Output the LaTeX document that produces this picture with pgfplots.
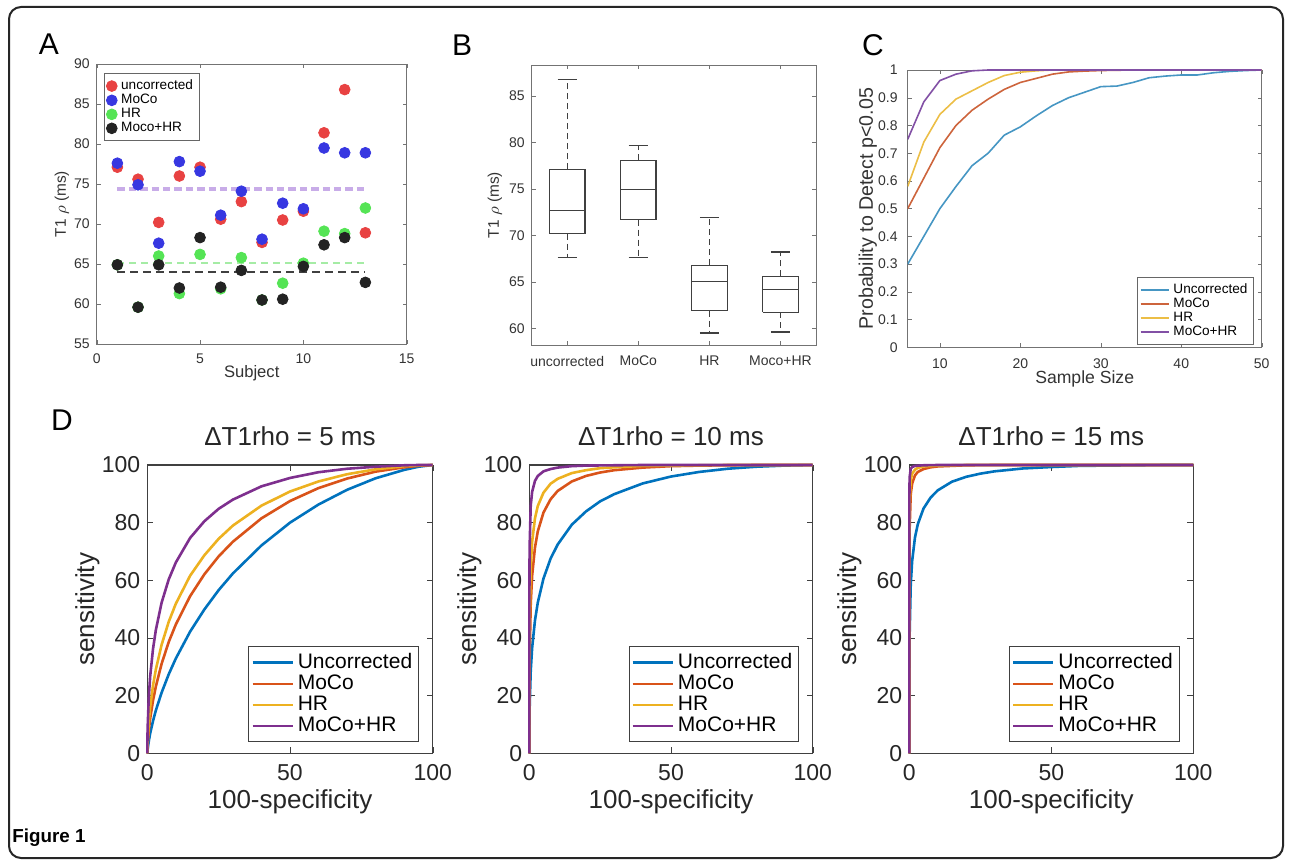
\documentclass[border=0pt]{standalone}
\usepackage{pgfplots}
\pgfplotsset{compat=1.18}
\usepackage{fontspec}
\setmainfont{Liberation Sans}
\newcommand{\fA}{\fontsize{7}{8}\selectfont}
\newcommand{\fAleg}{\fontsize{6.8}{7.4}\selectfont}
\newcommand{\fAy}{\fontsize{7.7}{9}\selectfont}
\newcommand{\fAx}{\fontsize{8.3}{9}\selectfont}
\newcommand{\fCx}{\fontsize{8.8}{10}\selectfont}
\newcommand{\fCy}{\fontsize{9.8}{11}\selectfont}
\newcommand{\fD}{\fontsize{11.5}{13}\selectfont}
\newcommand{\fDleg}{\fontsize{10.5}{12}\selectfont}
\newcommand{\fDl}{\fontsize{13}{15}\selectfont}
\definecolor{pred}{RGB}{232,66,66}
\definecolor{pblue}{RGB}{55,55,225}
\definecolor{pgreen}{RGB}{85,228,85}
\definecolor{pblack}{RGB}{35,35,35}
\definecolor{lpurple}{RGB}{200,172,232}
\definecolor{lgreen}{RGB}{165,236,165}
\definecolor{cU}{RGB}{70,150,195}
\definecolor{cM}{RGB}{205,100,60}
\definecolor{cH}{RGB}{236,190,70}
\definecolor{cB}{RGB}{130,80,165}
\definecolor{mU}{RGB}{0,114,189}
\definecolor{mM}{RGB}{217,83,25}
\definecolor{mH}{RGB}{237,177,32}
\definecolor{mB}{RGB}{126,47,142}
\pgfplotsset{
  mat/.style={scale only axis, anchor=south west, tick align=inside,
    xtick pos=both, ytick pos=both, major tick length=2pt,
    /pgf/number format/assume math mode=true,
    axis line style={black!55}, tick style={black!55},
    tick label style={font=\fA, text=black!80}},
  matD/.style={scale only axis, anchor=south west, tick align=inside,
    xtick pos=both, ytick pos=both, major tick length=3pt,
    /pgf/number format/assume math mode=true,
    axis line style={black!75, line width=0.6pt}, tick style={black!75},
    tick label style={font=\fD, text=black!85},
    xmin=0, xmax=100, ymin=0, ymax=100,
    xtick={0,50,100}, ytick={0,20,...,100},
    xticklabel style={yshift=-2pt},
    clip=false,
    every axis x label/.style={at={(axis description cs:0.5,0)}, yshift=-24pt, anchor=center, font=\fDl, text=black!85},
    every axis y label/.style={at={(axis description cs:0,0.5)}, xshift=-29.9pt, rotate=90, anchor=center, font=\fDl, text=black!85},
    every axis title/.style={at={(axis description cs:0.5,1)}, yshift=14.2pt, anchor=center, font=\fDl, text=black!85},
    legend style={at={(0.952,0.04)}, anchor=south east, font=\fDleg, draw=black!75,
      inner sep=1.2pt, row sep=-2.2pt, cells={anchor=west}},
    legend image code/.code={\draw[##1] (0pt,0pt) -- (20pt,0pt);},
    ylabel={sensitivity}, xlabel={100-specificity}},
  boxst/.style={black!75, line width=0.6pt, unbounded coords=jump, forget plot},
  whst/.style={black!75, line width=0.6pt, dash pattern=on 3pt off 2pt, unbounded coords=jump, forget plot},
}
\begin{document}
\begin{tikzpicture}[x=0.5pt,y=0.5pt]
\useasboundingbox (0,0) rectangle (1290,863);
\draw[line width=1pt, rounded corners=6pt, black!85] (9,5) rectangle (1283,856);
\node[font=\fontsize{15}{16}\selectfont] at (49,819) {A};
\node[font=\fontsize{15}{16}\selectfont] at (462,818) {B};
\node[font=\fontsize{15}{16}\selectfont] at (873,818) {C};
\node[font=\fontsize{15}{16}\selectfont] at (62,443) {D};
\node[font=\bfseries\fontsize{9.4}{10}\selectfont, anchor=west, inner sep=0pt] at (12,25) {Figure 1};

% ---------------- Panel A ----------------
\begin{axis}[mat, at={(48.35pt,259.5pt)}, width=155pt, height=140pt,
  xmin=0, xmax=15, ymin=55, ymax=90,
  xtick={0,5,10,15}, ytick={55,60,...,90},
  xticklabel style={yshift=-1.5pt},
  every axis x label/.style={at={(axis description cs:0.5,0)}, yshift=-14.5pt, anchor=center, font=\fAx, text=black!80},
  every axis y label/.style={at={(axis description cs:0,0.5)}, xshift=-17.4pt, rotate=90, anchor=center, font=\fAy, text=black!80},
  xlabel={Subject}, ylabel={T1 $\rho$ (ms)},
  legend style={at={(0.0235,0.967)}, anchor=north west, font=\fAleg, draw=black!60,
    inner sep=1pt, row sep=-3.2pt, cells={anchor=west}},
  legend image code/.code={\draw[#1] plot coordinates {(0.2cm,0cm)};},
]
\addplot[forget plot, lpurple, line width=2pt, dash pattern=on 3.7pt off 2pt] coordinates {(1,74.4) (13,74.4)};
\addplot[forget plot, lgreen, line width=0.9pt, dash pattern=on 3.5pt off 2.5pt] coordinates {(1,65.1) (13,65.1)};
\addplot[forget plot, black!75, line width=0.8pt, dash pattern=on 4pt off 2.5pt] coordinates {(1,64.0) (13,64.0)};
\addplot[only marks, mark=*, mark size=2.7pt, color=pred] coordinates {
(1,77.1) (2,75.6) (3,70.2) (4,76.0) (5,77.1) (6,70.6) (7,72.8) (8,67.7) (9,70.5) (10,71.6) (11,81.4) (12,86.8) (13,68.9)};
\addlegendentry{uncorrected}
\addplot[only marks, mark=*, mark size=2.7pt, color=pblue] coordinates {
(1,77.6) (2,74.9) (3,67.6) (4,77.8) (5,76.6) (6,71.1) (7,74.1) (8,68.1) (9,72.6) (10,71.9) (11,79.5) (12,78.9) (13,78.9)};
\addlegendentry{MoCo}
\addplot[only marks, mark=*, mark size=2.7pt, color=pgreen] coordinates {
(1,64.9) (2,59.6) (3,66.0) (4,61.3) (5,66.2) (6,61.9) (7,65.8) (8,60.5) (9,62.6) (10,65.1) (11,69.1) (12,68.8) (13,72.0)};
\addlegendentry{HR}
\addplot[only marks, mark=*, mark size=2.7pt, color=pblack] coordinates {
(1,64.9) (2,59.6) (3,64.9) (4,62.0) (5,68.3) (6,62.1) (7,64.2) (8,60.5) (9,60.6) (10,64.7) (11,67.4) (12,68.3) (13,62.7)};
\addlegendentry{Moco+HR}
\end{axis}

% ---------------- Panel B ----------------
% boxes: whisker low, Q1, median, Q3, whisker high
% uncorrected: 67.6 70.2 72.7 77.1 86.8
% MoCo:        67.6 71.7 74.9 78.1 79.65
% HR:          59.5 61.9 65.0 66.8 71.9
% Moco+HR:     59.6 61.7 64.2 65.6 68.2
\begin{axis}[mat, at={(265.85pt,259pt)}, width=142.15pt, height=140pt,
  xmin=0.5, xmax=4.5, ymin=58.2, ymax=88.34,
  xtick={1,2,3,4}, xticklabels={uncorrected,MoCo,HR,Moco+HR},
  ytick={60,65,...,85},
  xticklabel style={yshift=-2pt},
  every axis y label/.style={at={(axis description cs:0,0.5)}, xshift=-18.4pt, rotate=90, anchor=center, font=\fAy, text=black!80},
  ylabel={T1 $\rho$ (ms)},
]
\addplot[boxst] coordinates {(0.75,70.2) (1.25,70.2) (1.25,77.1) (0.75,77.1) (0.75,70.2) (nan,nan) (0.75,72.7) (1.25,72.7) (nan,nan) (0.865,86.8) (1.135,86.8) (nan,nan) (0.865,67.6) (1.135,67.6)};
\addplot[whst] coordinates {(1,77.1) (1,86.8) (nan,nan) (1,70.2) (1,67.6)};
\addplot[boxst] coordinates {(1.75,71.7) (2.25,71.7) (2.25,78.1) (1.75,78.1) (1.75,71.7) (nan,nan) (1.75,74.9) (2.25,74.9) (nan,nan) (1.865,79.65) (2.135,79.65) (nan,nan) (1.865,67.6) (2.135,67.6)};
\addplot[whst] coordinates {(2,78.1) (2,79.65) (nan,nan) (2,71.7) (2,67.6)};
\addplot[boxst] coordinates {(2.75,61.9) (3.25,61.9) (3.25,66.8) (2.75,66.8) (2.75,61.9) (nan,nan) (2.75,65.0) (3.25,65.0) (nan,nan) (2.865,71.9) (3.135,71.9) (nan,nan) (2.865,59.5) (3.135,59.5)};
\addplot[whst] coordinates {(3,66.8) (3,71.9) (nan,nan) (3,61.9) (3,59.5)};
\addplot[boxst] coordinates {(3.75,61.7) (4.25,61.7) (4.25,65.6) (3.75,65.6) (3.75,61.7) (nan,nan) (3.75,64.2) (4.25,64.2) (nan,nan) (3.865,68.2) (4.135,68.2) (nan,nan) (3.865,59.6) (4.135,59.6)};
\addplot[whst] coordinates {(4,65.6) (4,68.2) (nan,nan) (4,61.7) (4,59.6)};
\end{axis}

% ---------------- Panel C ----------------
\begin{axis}[mat, at={(453.85pt,257.85pt)}, width=177pt, height=138.65pt,
  xmin=6, xmax=50, ymin=0, ymax=1,
  xtick={10,20,...,50}, ytick={0,0.1,...,1},
  xticklabel style={yshift=-2pt}, yticklabel style={xshift=-1.5pt},
  every axis x label/.style={at={(axis description cs:0.5,0)}, yshift=-15.9pt, anchor=center, font=\fCx, text=black!80},
  every axis y label/.style={at={(axis description cs:0,0.5)}, xshift=-19.9pt, rotate=90, anchor=center, font=\fCy, text=black!80},
  xlabel={Sample Size}, ylabel={Probability to Detect p<0.05},
  legend style={at={(0.978,0.01)}, anchor=south east, font=\fAleg, draw=black!60,
    inner sep=1pt, row sep=-3.3pt, cells={anchor=west}},
  legend image code/.code={\draw[#1] (0pt,0pt) -- (14pt,0pt);},
]
\addplot[cU, line width=0.8pt] coordinates {
(6,0.30) (8,0.40) (10,0.50) (12,0.58) (14,0.655) (16,0.70) (18,0.765) (20,0.795) (22,0.835) (24,0.872) (26,0.90) (28,0.92) (30,0.94) (32,0.942) (34,0.955) (36,0.972) (38,0.978) (40,0.982) (42,0.982) (44,0.99) (46,0.995) (48,0.998) (50,1.0)};
\addlegendentry{Uncorrected}
\addplot[cM, line width=0.8pt] coordinates {
(6,0.50) (8,0.61) (10,0.72) (12,0.80) (14,0.855) (16,0.895) (18,0.93) (20,0.955) (22,0.97) (24,0.985) (26,0.993) (28,0.996) (30,0.998) (32,0.999) (34,1) (50,1)};
\addlegendentry{MoCo}
\addplot[cH, line width=0.8pt] coordinates {
(6,0.58) (8,0.74) (10,0.84) (12,0.895) (14,0.925) (16,0.955) (18,0.98) (20,0.992) (22,0.997) (24,1) (50,1)};
\addlegendentry{HR}
\addplot[cB, line width=0.8pt] coordinates {
(6,0.75) (8,0.885) (10,0.962) (12,0.985) (14,0.997) (16,1) (50,1)};
\addlegendentry{MoCo+HR}
\end{axis}

% ---------------- Panel D1 ----------------
\begin{axis}[matD, at={(73.65pt,54.85pt)}, width=142.7pt, height=144.15pt,
  title={ΔT1rho = 5 ms}]
\addplot[mU, line width=1.3pt] coordinates {
(0,0) (0.1,1.2) (0.5,4.1) (1,6.9) (2,11.2) (3,14.9) (5,21.0) (7.5,27.4) (10,32.9) (15,42.2) (20,49.9) (25,56.6) (30,62.4) (40,72.1) (50,80.0) (60,86.3) (70,91.4) (80,95.4) (90,98.3) (95,99.4) (100,100)};
\addlegendentry{Uncorrected}
\addplot[mM, line width=1.3pt] coordinates {
(0,0) (0.1,2.6) (0.5,7.7) (1,12.0) (2,18.3) (3,23.2) (5,31.0) (7.5,38.6) (10,44.7) (15,54.5) (20,62.1) (25,68.3) (30,73.4) (40,81.5) (50,87.5) (60,92.0) (70,95.3) (80,97.7) (90,99.2) (95,99.7) (100,100)};
\addlegendentry{MoCo}
\addplot[mH, line width=1.3pt] coordinates {
(0,0) (0.1,3.9) (0.5,10.6) (1,16.0) (2,23.5) (3,29.1) (5,37.6) (7.5,45.6) (10,51.9) (15,61.6) (20,68.7) (25,74.4) (30,79.0) (40,85.9) (50,90.8) (60,94.3) (70,96.8) (80,98.5) (90,99.6) (95,99.9) (100,100)};
\addlegendentry{HR}
\addplot[mB, line width=1.3pt] coordinates {
(0,0) (0.1,8.2) (0.5,19.1) (1,26.6) (2,36.2) (3,42.8) (5,52.2) (7.5,60.3) (10,66.2) (15,74.7) (20,80.5) (25,84.8) (30,88.0) (40,92.6) (50,95.5) (60,97.5) (70,98.7) (80,99.4) (90,99.9) (95,100) (100,100)};
\addlegendentry{MoCo+HR}
\end{axis}

% ---------------- Panel D2 ----------------
\begin{axis}[matD, at={(264.65pt,54.85pt)}, width=141.7pt, height=144.15pt,
  title={ΔT1rho = 10 ms}]
\addplot[mU, line width=1.3pt] coordinates {
(0,0) (0.01,5.5) (0.1,15.1) (0.5,28.5) (1,36.6) (2,46.1) (3,52.3) (5,60.6) (7.5,67.5) (10,72.4) (15,79.3) (20,83.9) (25,87.4) (30,89.9) (40,93.6) (50,96.0) (60,97.6) (70,98.7) (80,99.4) (90,99.8) (100,100)};
\addlegendentry{Uncorrected}
\addplot[mM, line width=1.3pt] coordinates {
(0,0) (0.01,13.6) (0.1,31.9) (0.5,51.8) (1,61.6) (2,71.4) (3,77.0) (5,83.5) (7.5,88.1) (10,91.0) (15,94.3) (20,96.2) (25,97.4) (30,98.2) (40,99.1) (50,99.6) (60,99.8) (70,99.9) (80,100) (100,100)};
\addlegendentry{MoCo}
\addplot[mH, line width=1.3pt] coordinates {
(0,0) (0.01,22.1) (0.1,44.4) (0.5,64.6) (1,73.4) (2,81.5) (3,85.8) (5,90.4) (7.5,93.5) (10,95.2) (15,97.2) (20,98.2) (25,98.9) (30,99.2) (40,99.7) (50,99.8) (60,99.9) (70,100) (100,100)};
\addlegendentry{HR}
\addplot[mB, line width=1.3pt] coordinates {
(0,0) (0.01,47.3) (0.1,71.2) (0.5,85.9) (1,90.7) (2,94.5) (3,96.2) (5,97.8) (7.5,98.6) (10,99.1) (15,99.6) (20,99.8) (30,99.9) (40,100) (100,100)};
\addlegendentry{MoCo+HR}
\end{axis}

% ---------------- Panel D3 ----------------
\begin{axis}[matD, at={(454.65pt,54.85pt)}, width=142pt, height=144.15pt,
  title={ΔT1rho = 15 ms}]
\addplot[mU, line width=1.3pt] coordinates {
(0,0) (0.01,21.4) (0.1,40.6) (0.5,58.4) (1,66.7) (2,74.9) (3,79.5) (5,84.9) (7.5,88.7) (10,91.2) (15,94.2) (20,95.9) (25,97.0) (30,97.8) (40,98.8) (50,99.3) (60,99.7) (70,99.8) (80,99.9) (90,100) (100,100)};
\addlegendentry{Uncorrected}
\addplot[mM, line width=1.3pt] coordinates {
(0,0) (0.01,55.2) (0.1,77.6) (0.5,89.9) (1,93.6) (2,96.4) (3,97.6) (5,98.6) (7.5,99.2) (10,99.5) (20,99.9) (30,100) (100,100)};
\addlegendentry{MoCo}
\addplot[mH, line width=1.3pt] coordinates {
(0,0) (0.01,68.5) (0.1,86.7) (0.5,94.8) (1,97.0) (2,98.4) (3,99.0) (5,99.5) (10,99.8) (20,100) (100,100)};
\addlegendentry{HR}
\addplot[mB, line width=1.3pt] coordinates {
(0,0) (0.01,86.0) (0.1,95.6) (0.5,98.7) (1,99.3) (2,99.7) (5,99.9) (10,100) (100,100)};
\addlegendentry{MoCo+HR}
\end{axis}
\end{tikzpicture}
\end{document}
